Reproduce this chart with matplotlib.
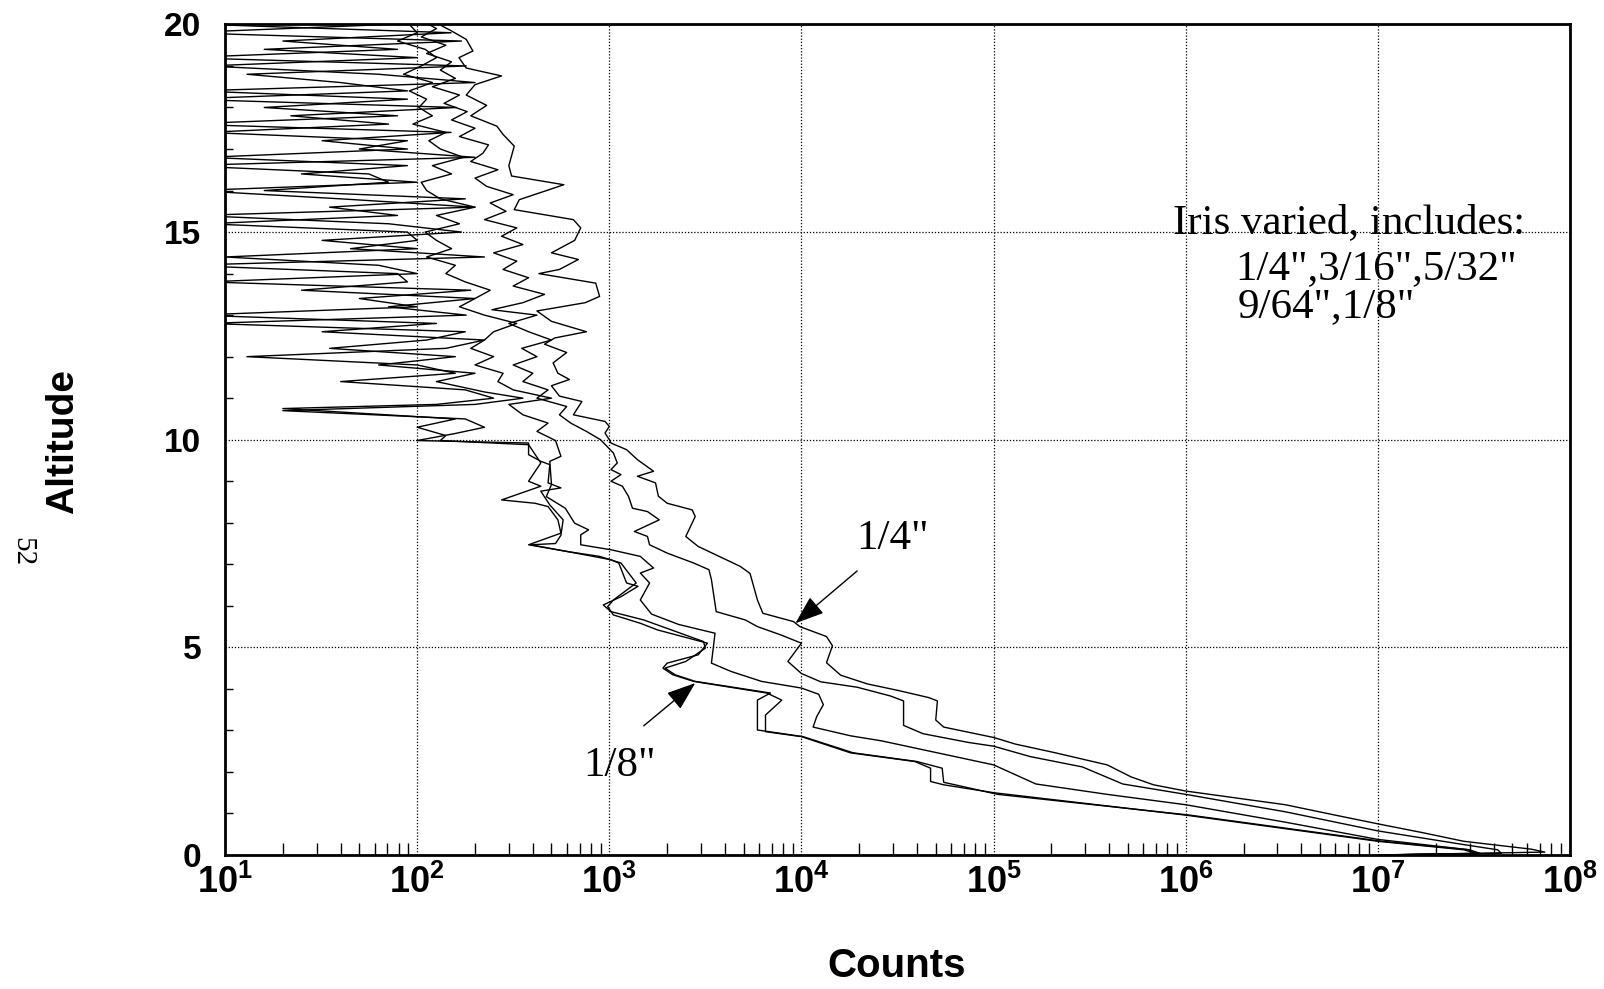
import matplotlib
matplotlib.use("Agg")
import matplotlib.pyplot as plt
from matplotlib.ticker import LogLocator, NullFormatter

plt.rcParams['mathtext.fontset'] = 'custom'
plt.rcParams['mathtext.bf'] = 'Liberation Sans:bold'
plt.rcParams['mathtext.rm'] = 'Liberation Sans'

# profile for the 1/4" iris (widest opening)
alt_a = [0.0, 0.07, 0.14, 0.33, 0.54, 0.75, 0.96, 1.21, 1.54, 1.69, 1.88, 2.17, 2.46, 2.67, 2.83,
         3.08, 3.25, 3.71, 3.79, 3.96, 4.12, 4.33, 4.63, 5.04, 5.26, 5.5, 5.62, 5.82, 6.14, 6.78,
         6.95, 7.43, 7.67, 8.15, 8.31, 8.47, 8.64, 8.96, 9.12, 9.24, 9.52, 9.76, 9.92,
         10.0, 10.16, 10.32, 10.44, 10.6, 10.92, 11.05, 11.3, 11.45, 11.6, 11.85, 12.1, 12.3, 12.45,
         12.6, 12.85, 13.1, 13.3, 13.45, 13.77, 14.0, 14.1, 14.34, 14.5, 14.8, 15.1, 15.3, 15.54,
         15.78, 16.14, 16.35, 16.6, 17.07, 17.35, 17.55, 17.8, 18.05, 18.3, 18.55, 18.76, 18.95,
         19.2, 19.36, 19.64, 19.85, 20.0]
cnt_a = [1.0e7, 7.4e7, 6.3e7, 2.8e7, 1.7e7, 1.0e7, 6.0e6, 3.3e6, 1.0e6, 6.8e5, 5.2e5, 3.9e5, 2.1e5, 1.3e5, 1.0e5,
         5.5e4, 5.0e4, 5.1e4, 4.6e4, 3.2e4, 2.2e4, 1.6e4, 1.35e4, 1.45e4, 1.35e4, 9800, 9100, 6300, 5900, 5400,
         4800, 2900, 2500, 2800, 2700, 2000, 1800, 1740, 1400, 1700, 1400, 1230, 1020,
         1000, 950, 1000, 950, 650, 720, 550, 500, 620, 540, 510, 600, 460, 520,
         760, 500, 420, 750, 890, 850, 430, 550, 690, 500, 660, 710, 650, 320,
         340, 580, 310, 300, 320, 280, 260, 190, 230, 180, 200, 275, 180,
         165, 195, 180, 150, 130]

alt_b = [0.0, 0.04, 0.125, 0.25, 0.58, 1.04, 1.46, 1.71, 2.12, 2.37, 2.62, 2.71, 2.92, 3.12, 3.71,
         3.83, 4.04, 4.17, 4.37, 4.66, 5.1, 5.3, 5.5, 5.66, 5.86, 6.63, 6.87, 7.03, 7.27, 7.47,
         7.67, 7.79, 8.07, 8.27, 8.35, 8.63, 8.88, 9.0, 9.16, 9.28, 9.44, 9.68,
         10.0, 10.2, 10.4, 10.6, 10.8, 11.0, 11.2, 11.4, 11.6, 11.8, 12.0, 12.2, 12.4, 12.6, 12.8,
         13.0, 13.13, 13.3, 13.5, 13.7, 13.9, 14.1, 14.3, 14.5, 14.7, 14.9, 15.1, 15.3, 15.5, 15.7,
         15.9, 16.1, 16.3, 16.5, 16.7, 16.9, 17.1, 17.3, 17.5, 17.7, 17.9, 18.1, 18.3, 18.5, 18.7,
         18.9, 19.1, 19.3, 19.5, 19.7, 19.9, 20.0]
cnt_b = [1.0e7, 4.4e7, 4.2e7, 2.8e7, 1.0e7, 3.3e6, 1.0e6, 4.7e5, 2.9e5, 1.55e5, 1.0e5, 7.4e4, 4.3e4, 3.4e4, 3.4e4,
         2.9e4, 1.95e4, 1.26e4, 1.0e4, 8500, 1.0e4, 7800, 5900, 5100, 3600, 3400, 3300, 2750, 2000, 1620,
         1580, 1350, 1820, 1580, 1320, 1260, 1170, 1020, 1150, 1020, 1100, 1050,
         900, 760, 630, 550, 600, 420, 480, 355, 400, 316, 420, 350, 500, 380, 300,
         420, 245, 355, 460, 316, 380, 280, 330, 250, 355, 275, 330, 224, 290, 240,
         316, 230, 200, 263, 190, 220, 235, 166, 200, 151, 182, 138, 166, 120, 158,
         132, 151, 112, 141, 105, 126, 115]

alt_c = [0.0, 0.03, 0.125, 0.375, 0.79, 1.21, 1.46, 1.71, 2.17, 2.46, 2.75, 2.87, 3.08, 3.33, 3.62,
         3.87, 4.02, 4.18, 4.42, 4.62, 5.34, 5.55, 5.8, 6.14, 6.55, 6.79, 6.91, 7.19, 7.35, 7.47,
         7.71, 7.83, 7.99, 8.35, 8.63, 8.92, 9.48, 9.6, 9.98,
         10.2, 10.4, 10.6, 10.85, 11.0, 11.2, 11.4, 11.6, 11.8, 12.0, 12.2, 12.4, 12.6, 12.8, 13.0,
         13.2, 13.4, 13.6, 13.8, 14.0, 14.2, 14.4, 14.6, 14.8, 15.0, 15.2, 15.4, 15.6, 15.8, 16.0,
         16.2, 16.4, 16.6, 16.8, 17.0, 17.2, 17.4, 17.6, 17.8, 18.0, 18.2, 18.4, 18.6, 18.8, 19.0,
         19.2, 19.4, 19.6, 19.8, 20.0]
cnt_c = [1.0e7, 3.2e7, 3.0e7, 1.0e7, 3.3e6, 1.0e6, 3.9e5, 1.66e5, 1.0e5, 5.1e4, 2.6e4, 1.8e4, 1.15e4, 1.2e4, 1.3e4,
         1.23e4, 1.0e4, 6200, 4300, 3400, 3550, 2300, 1660, 1450, 1620, 1450, 1700, 1450, 1020, 710,
         710, 780, 660, 590, 470, 500, 490, 560, 525,
         420, 480, 355, 300, 500, 316, 263, 280, 200, 250, 190, 224, 250, 330, 224,
         166, 200, 240, 178, 141, 158, 112, 151, 126, 110, 166, 126, 200, 132, 112,
         105, 151, 120, 174, 132, 115, 141, 95, 120, 102, 112, 91, 120, 85, 105,
         126, 110, 79, 100, 91]

alt_d = [0.0, 0.03, 0.125, 0.33, 0.96, 1.5, 1.69, 1.77, 2.09, 2.25, 2.46, 2.85, 2.97, 3.37, 3.73,
         3.9, 4.18, 4.34, 4.5, 4.62, 4.82, 5.1, 5.42, 5.58, 5.78, 5.98, 6.14, 6.55, 7.03, 7.19,
         7.31, 7.47, 7.5, 7.7, 8.07, 8.43, 8.76, 8.84, 8.96, 9.4, 9.48, 9.64, 9.92, 9.98,
         10.15, 10.3, 10.5, 10.7, 10.85, 11.0, 11.15, 11.4, 11.6, 11.8, 12.0, 12.2, 12.4, 12.6, 12.8,
         13.0, 13.2, 13.4, 13.6, 13.8, 14.0, 14.2, 14.4, 14.6, 14.8, 15.0, 15.2, 15.4, 15.6, 15.8,
         16.0, 16.2, 16.4, 16.6, 16.8, 17.0, 17.2, 17.4, 17.6, 17.8, 18.0, 18.2, 18.4, 18.6, 18.8,
         19.0, 19.2, 19.4, 19.6, 19.8, 20.0]
cnt_d = [1.0e7, 3.3e7, 2.8e7, 1.0e7, 1.0e6, 1.0e5, 5.5e4, 4.7e4, 4.7e4, 3.9e4, 1.8e4, 1.0e4, 6500, 6500, 7900,
         6600, 2750, 2140, 1900, 2000, 2900, 3240, 1780, 1450, 1050, 980, 1050, 1380, 1150, 890,
         600, 390, 525, 560, 575, 490, 440, 560, 480, 490, 440, 380, 380, 100,
         158, 224, 178, 20, 200, 355, 224, 126, 200, 63, 158, 35, 112, 178, 8,
         180, 71, 200, 25, 89, 79, 6, 224, 45, 100, 89, 8, 79, 35, 178,
         16, 71, 56, 6, 200, 50, 89, 8, 71, 22, 160, 6, 89, 40, 13,
         180, 6, 79, 20, 150, 8]

# profile for the 1/8" iris (smallest opening)
alt_e = [0.0, 0.04, 0.125, 0.33, 0.96, 1.46, 1.69, 1.75, 2.09, 2.25, 2.46, 2.85, 3.01, 3.73, 3.9,
         4.18, 4.34, 4.5, 4.66, 4.98, 5.14, 5.66, 5.86, 6.02, 6.22, 6.47, 6.55, 7.03, 7.11, 7.31,
         7.47, 7.75, 8.07, 8.39, 8.47, 8.55, 8.88, 9.0, 9.44, 9.88, 9.98,
         10.1, 10.3, 10.5, 10.75, 10.85, 11.0, 11.2, 11.4, 11.6, 11.8, 12.0, 12.2, 12.4, 12.6, 12.8,
         13.0, 13.2, 13.4, 13.6, 13.8, 14.0, 14.2, 14.4, 14.6, 14.8, 15.0, 15.2, 15.4, 15.6, 15.8,
         16.0, 16.2, 16.4, 16.6, 16.8, 17.0, 17.2, 17.4, 17.6, 17.8, 18.0, 18.2, 18.4, 18.6, 18.8,
         19.0, 19.2, 19.4, 19.6, 19.8, 20.0]
cnt_e = [1.0e7, 3.4e7, 3.0e7, 1.05e7, 1.05e6, 1.05e5, 6.3e4, 5.5e4, 5.4e4, 4.0e4, 1.86e4, 1.02e4, 5900, 5900, 6900,
         2800, 2200, 1950, 2500, 3160, 3090, 1510, 1020, 930, 1150, 1410, 1230, 1120, 1020, 600,
         380, 560, 540, 480, 410, 275, 440, 380, 440, 380, 132,
         141, 100, 158, 20, 126, 250, 178, 40, 158, 100, 13, 141, 224, 32, 126,
         7, 100, 50, 190, 8, 100, 63, 10, 100, 32, 170, 71, 7, 200, 40,
         7, 100, 25, 89, 8, 89, 32, 150, 6, 79, 16, 89, 7, 200, 63,
         8, 100, 16, 170, 6, 71]

x_ticks = [1e1, 1e2, 1e3, 1e4, 1e5, 1e6, 1e7, 1e8]
x_tick_labels = [r'$\mathbf{10^{%d}}$' % k for k in range(1, 9)]
y_ticks = [0, 5, 10, 15, 20]

fig = plt.figure(figsize=(16.04, 9.89), dpi=100)
ax = fig.add_axes([0.1403, 0.1355, 0.8385, 0.8398])

for alt, cnt in [(alt_a, cnt_a), (alt_b, cnt_b), (alt_c, cnt_c), (alt_d, cnt_d), (alt_e, cnt_e)]:
    ax.plot(cnt, alt, color='k', lw=1.0)

ax.set_xscale('log')
ax.set_xlim(10, 1e8)
ax.set_ylim(0, 20)

ax.set_xticks(x_ticks)
ax.set_xticklabels(x_tick_labels, fontsize=26)
ax.xaxis.set_minor_locator(LogLocator(base=10, subs=range(2, 10), numticks=20))
ax.xaxis.set_minor_formatter(NullFormatter())
ax.set_yticks(y_ticks)
ax.set_yticklabels([str(v) for v in y_ticks], fontsize=24, fontweight='bold',
                   family='Liberation Sans')
ax.set_yticks(range(0, 21), minor=True)

ax.tick_params(which='major', length=0)
ax.tick_params(axis='x', which='major', pad=6)
ax.tick_params(axis='y', which='major', pad=17)
ax.tick_params(which='minor', direction='in', width=1.0)
ax.tick_params(axis='x', which='minor', length=9)
ax.tick_params(axis='y', which='minor', length=6)

ax.grid(True, which='major', color='k', lw=0.9, ls=(0, (1, 1.5)))
for s in ax.spines.values():
    s.set_linewidth(2.0)

# arrows pointing at the two extreme iris curves
arrow = dict(arrowstyle='-|>,head_length=0.6,head_width=0.22', color='k', lw=1.0,
             mutation_scale=30, shrinkA=0, shrinkB=0)
ax.annotate('', xy=(9300, 5.58), xytext=(19500, 6.84), arrowprops=arrow)
ax.annotate('', xy=(2800, 4.14), xytext=(1510, 3.11), arrowprops=arrow)

serif = dict(family='Liberation Serif', fontsize=31, color='k', va='center')
ax.text(0.496, 0.3805, '1/4"', transform=ax.transAxes, ha='center', **serif)
ax.text(0.293, 0.108, '1/8"', transform=ax.transAxes, ha='center', **serif)
ax.text(0.705, 0.761, 'Iris varied, includes:', transform=ax.transAxes, ha='left', **serif)
ax.text(0.751, 0.7056, '1/4",3/16",5/32"', transform=ax.transAxes, ha='left', **serif)
ax.text(0.753, 0.660, '9/64",1/8"', transform=ax.transAxes, ha='left', **serif)

fig.text(897 / 1604, 1 - 966 / 989, 'Counts', ha='center', va='center',
         fontsize=29, fontweight='bold', family='Liberation Sans')
fig.text(63 / 1604, 1 - 442 / 989, 'Altitude', ha='center', va='center', rotation=90,
         fontsize=28, fontweight='bold', family='Liberation Sans')
fig.text(22 / 1604, 1 - 552 / 989, '52', ha='center', va='center', rotation=-90,
         fontsize=21, family='Liberation Serif')

fig.savefig('out.png', dpi=100, facecolor='white')
